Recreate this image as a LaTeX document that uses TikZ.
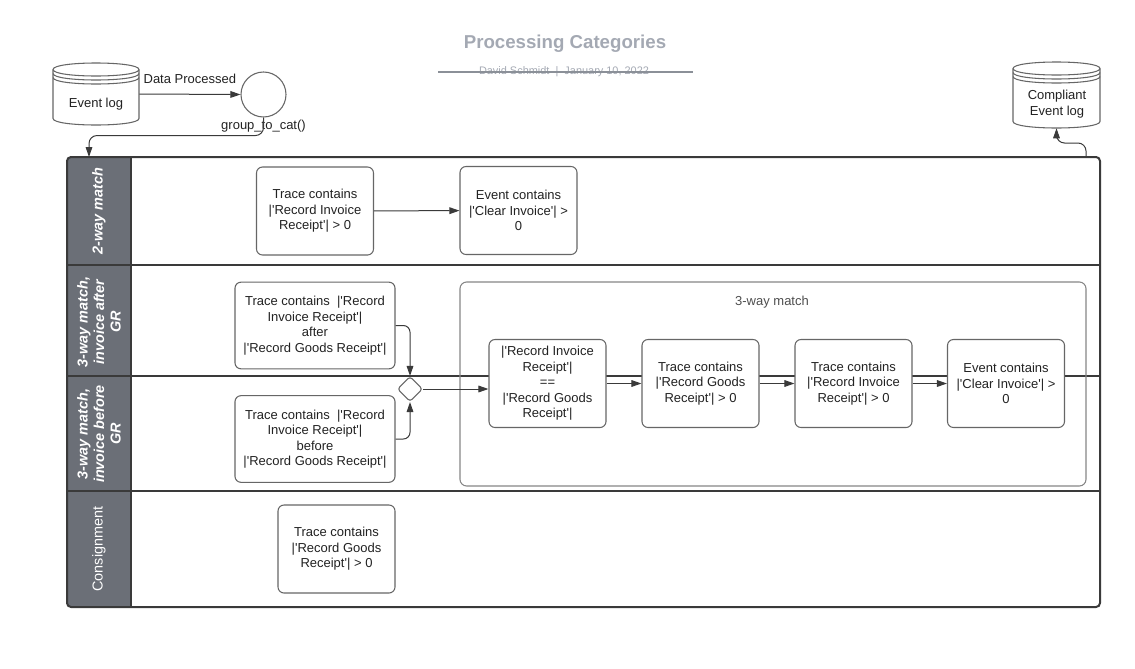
\documentclass[tikz,border=0pt]{standalone}
\usepackage{fontspec}
\setmainfont{Liberation Sans}
\usetikzlibrary{arrows.meta,shapes.geometric}
\definecolor{hdr}{HTML}{6B6F77}
\definecolor{ttl}{HTML}{A4A9B3}
\definecolor{edgec}{HTML}{3A3A3A}
\definecolor{bord}{HTML}{666666}
\definecolor{txt}{HTML}{222222}
\newcommand\sq{\textquotesingle}
\begin{document}
\begin{tikzpicture}[x=0.75pt,y=-0.75pt,
  font=\fontsize{9.75}{11.6}\selectfont, text=txt,
  task/.style={draw=bord, line width=0.8pt, fill=white, rounded corners=4.5pt,
    align=center, minimum width=87.75pt, minimum height=66pt, inner sep=1pt},
  widetask/.style={task, minimum width=120pt, minimum height=65pt},
  flow/.style={draw=edgec, line width=0.75pt, -{Triangle[length=7.5pt,width=5pt]}},
  lanelabel/.style={rotate=90, text=white, align=center,
    font=\fontsize{10.8}{12.4}\selectfont\bfseries\itshape},
  lanelabelplain/.style={rotate=90, text=white, align=center,
    font=\fontsize{10.8}{12.4}\selectfont},
  dbline/.style={draw=bord, line width=0.8pt},
  divider/.style={draw=edgec, line width=1.2pt}]
\useasboundingbox (0,0) rectangle (1135,668);

% title
\node[font=\fontsize{14}{16}\selectfont\bfseries, text=ttl] (title) at (565,44) {Processing Categories};
\node[font=\fontsize{8.2}{9.5}\selectfont, text=ttl] (subtitle) at (564,72) {David Schmidt \ | \ January 10, 2022};
\draw[ttl!85!black, line width=0.8pt] (438,72) -- (693,72);

% Event log cylinder
\filldraw[dbline, fill=white] (53,69.5) -- (53,118.5) .. controls (53,127.17) and (139,127.17) .. (139,118.5) -- (139,69.5) .. controls (139,60.83) and (53,60.83) .. (53,69.5) -- cycle;
\draw[dbline] (53,69.5) .. controls (53,78.17) and (139,78.17) .. (139,69.5);
\draw[dbline] (53,73.5) .. controls (53,82.17) and (139,82.17) .. (139,73.5);
\draw[dbline] (53,77.5) .. controls (53,86.17) and (139,86.17) .. (139,77.5);
\node[minimum width=64.5pt, minimum height=46.5pt, inner sep=0] (ev) at (96,94) {};
\node (evt) at (96,104) {Event log};

% Compliant event log cylinder
\filldraw[dbline, fill=white] (1013,68.5) -- (1013,121.5) .. controls (1013,130.17) and (1100,130.17) .. (1100,121.5) -- (1100,68.5) .. controls (1100,59.83) and (1013,59.83) .. (1013,68.5) -- cycle;
\draw[dbline] (1013,68.5) .. controls (1013,77.17) and (1100,77.17) .. (1100,68.5);
\draw[dbline] (1013,72.5) .. controls (1013,81.17) and (1100,81.17) .. (1100,72.5);
\draw[dbline] (1013,76.5) .. controls (1013,85.17) and (1100,85.17) .. (1100,76.5);
\node[minimum width=65.25pt, minimum height=49.5pt, inner sep=0] (cel) at (1056.5,95) {};
\node[align=center] (celt) at (1057,104) {Compliant\\Event log};

% circle
\node[circle, draw=bord, line width=0.8pt, fill=white, minimum size=33.75pt, inner sep=0] (circ) at (263.5,94.5) {};
\node[anchor=north, inner sep=0.5pt] (gtc) at ([yshift=-1pt]circ.south) {group\_to\_cat()};
\draw[flow] (ev.east) -- node[above=4pt] (dp) {Data Processed} (circ.west);

% pool
\fill[hdr, rounded corners=3pt] (67,157) rectangle (131,607);
\draw[divider] (67,265) -- (1100,265);
\draw[divider] (67,376) -- (1100,376);
\draw[divider] (67,491) -- (1100,491);
\draw[divider] (131,157) -- (131,607);
\draw[edgec, line width=1.5pt, rounded corners=3pt] (67,157) rectangle (1100,607);
\coordinate (poolin) at (89,157);
\coordinate (poolout) at (1086,157);

% lane labels
\node[lanelabel] (l1) at (99,211) {2-way match};
\node[lanelabel] (l2) at (99,322) {3-way match,\\invoice after\\GR};
\node[lanelabel] (l3) at (99,434) {3-way match,\\invoice before\\GR};
\node[lanelabelplain] (l4) at (99,549) {Consignment};

% group container
\node[draw=bord!80, line width=0.8pt, rounded corners=5pt, minimum width=469.5pt, minimum height=153pt, inner sep=0] (grp) at (773,384) {};
\node[text=txt!80] (grpt) at (772,302) {3-way match};

% tasks
\node[task] (A) at (315,211) {Trace contains\\|\sq Record Invoice\\Receipt\sq| > 0};
\node[task] (B) at (518.5,210.5) {Event contains\\|\sq Clear Invoice\sq| >\\0};
\node[widetask] (C) at (315,325.5) {Trace contains \ |\sq Record\\Invoice Receipt\sq|\\after\\|\sq Record Goods Receipt\sq|};
\node[widetask] (D) at (315,439) {Trace contains \ |\sq Record\\Invoice Receipt\sq|\\before\\|\sq Record Goods Receipt\sq|};
\node[task] (E) at (547.5,383.5) {|\sq Record Invoice\\Receipt\sq|\\==\\|\sq Record Goods\\Receipt\sq|};
\node[task] (F) at (700.5,383.5) {Trace contains\\|\sq Record Goods\\Receipt\sq| > 0};
\node[task] (G) at (853.5,383.5) {Trace contains\\|\sq Record Invoice\\Receipt\sq| > 0};
\node[task] (H) at (1006,383.5) {Event contains\\|\sq Clear Invoice\sq| >\\0};
\node[task] (I) at (336.5,549) {Trace contains\\|\sq Record Goods\\Receipt\sq| > 0};

% gateway
\node[diamond, draw=bord, line width=0.8pt, fill=white, minimum width=18.75pt, minimum height=18.75pt, inner sep=0, rounded corners=2pt] (gw) at (410,389) {};

% connectors
\draw[flow] (A) -- (B);
\draw[flow, rounded corners=5pt] (C.east) -| (gw.north);
\draw[flow, rounded corners=5pt] (D.east) -| (gw.south);
\draw[flow] (gw.east) -- (gw.east -| E.west);
\draw[flow] (E) -- (F);
\draw[flow] (F) -- (G);
\draw[flow] (G) -- (H);
\draw[flow, rounded corners=6pt] (circ.south) -- ++(0,18) -| (poolin);
\draw[flow, rounded corners=6pt] (poolout) -- ++(0,-14) -| (cel.south);
\end{tikzpicture}
\end{document}
